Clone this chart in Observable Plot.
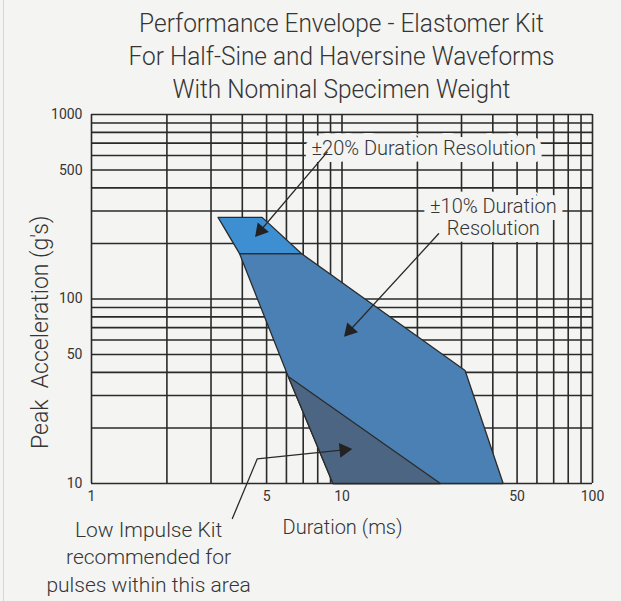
<!DOCTYPE html>
<html>
<head>
<meta charset="utf-8">
<script src="https://cdn.jsdelivr.net/npm/d3@7"></script>
<script src="https://cdn.jsdelivr.net/npm/@observablehq/plot@0.6"></script>
<style>
html, body { margin: 0; padding: 0; background: #f4f4f2; }
body { width: 621px; height: 601px; overflow: hidden; position: relative; font-family: Roboto, "Liberation Sans", sans-serif; color: #353535; }
#edge { position: absolute; left: 3px; top: 0; width: 1px; height: 601px; background: #d6d6d6; }
#title { position: absolute; left: 31px; top: 7px; width: 621px; text-align: center; font-size: 26px; font-weight: 300; line-height: 33px; transform: scaleX(0.94); transform-origin: 310.5px 0; }
#chart { position: absolute; left: 0; top: 100px; }
</style>
</head>
<body>
<div id="edge"></div>
<div id="title">
  <div>Performance Envelope - Elastomer Kit</div>
  <div>For Half-Sine and Haversine Waveforms</div>
  <div>With Nominal Specimen Weight</div>
</div>
<div id="chart"></div>
<script>
// ---- data ----
const xTicks = [1, 5, 10, 50, 100];
const yTicks = [10, 50, 100, 500, 1000];
const xGrid = [1, 2, 3, 4, 5, 6, 7, 8, 9, 10, 20, 30, 40, 50, 60, 70, 80, 90, 100];
const yGrid = [10, 20, 30, 40, 50, 60, 70, 80, 90, 100, 200, 300, 400, 500, 600, 700, 800, 900, 1000];

// ±20% duration resolution zone (duration ms, peak g)
const zone20Duration = [3.2, 4.8, 6.9, 3.9];
const zone20Accel = [277, 277, 176, 176];
// ±10% duration resolution zone
const zone10Duration = [3.9, 6.9, 31, 44, 9.2, 6.1];
const zone10Accel = [176, 176, 41, 10, 10, 38];
// low impulse kit zone
const lowDuration = [6.1, 24.7, 9.2];
const lowAccel = [38, 10, 10];

// annotation labels
const boxedText = ["±20% Duration Resolution", "±10% Duration\nResolution"];
const boxedDuration = [21.2, 40.2];
const boxedAccel = [662, 280];
const noteText = ["Low Impulse Kit\nrecommended for\npulses within this area"];
const noteDuration = [1.69];
const noteAccel = [4.07];
const xTitle = ["Duration (ms)"];
const xTitleDuration = [10.05];
const xTitleAccel = [5.77];
const yTitle = ["Peak  Acceleration (g's)"];
const yTitleDuration = [0.626];
const yTitleAccel = [66];

// leader lines
const arrowId = [1, 1, 2, 2, 3, 3, 3];
const arrowDuration = [8.73, 4.73, 24.3, 10.74, 3.65, 4.59, 10.17];
const arrowAccel = [625, 235, 225.6, 67.5, 6.46, 13.6, 15.2];

// ---- build ----
const bg = "#f4f4f2";
const ink = "#353535";
const font = "Roboto, 'Liberation Sans', sans-serif";
const toRows = (xs, ys) => xs.map((x, i) => ({x, y: ys[i]}));
const zone20 = toRows(zone20Duration, zone20Accel);
const zone10 = toRows(zone10Duration, zone10Accel);
const low = toRows(lowDuration, lowAccel);
const boxed = boxedText.map((t, i) => ({t, x: boxedDuration[i], y: boxedAccel[i]}));
const arrows = arrowId.map((id, i) => ({id, x: arrowDuration[i], y: arrowAccel[i]}));

function make(heads) {
  return Plot.plot({
    width: 621, height: 501,
    marginTop: 14, marginBottom: 118, marginLeft: 91, marginRight: 29,
    style: {background: "transparent", fontFamily: font, fontSize: "14px", color: ink, overflow: "visible"},
    x: {type: "log", domain: [1, 100], ticks: xTicks, tickFormat: d3.format("d"), tickSize: 0, tickPadding: 8, label: null},
    y: {type: "log", domain: [10, 1000], ticks: yTicks, tickFormat: d3.format("d"), tickSize: 0, tickPadding: 9, label: null},
    marks: [
      Plot.ruleX(xGrid, {stroke: "#2a2a2a", strokeWidth: 1.6}),
      Plot.ruleY(yGrid, {stroke: "#2a2a2a", strokeWidth: 1.6}),
      Plot.line(zone10, {x: "x", y: "y", curve: "linear-closed", fill: "#4a80b4", stroke: "#2b2b2b", strokeWidth: 1.3}),
      Plot.line(zone20, {x: "x", y: "y", curve: "linear-closed", fill: "#3d8fd2", stroke: "#2b2b2b", strokeWidth: 1.3}),
      Plot.line(low, {x: "x", y: "y", curve: "linear-closed", fill: "#4c6583", stroke: "#2b2b2b", strokeWidth: 1.3}),
      Plot.text(boxed, {x: "x", y: "y", text: "t", fontSize: 20, fill: ink, stroke: bg, strokeWidth: 14, lineHeight: 1.1, fontFamily: font, fontWeight: 300}),
      Plot.text(noteText, {x: noteDuration, y: noteAccel, text: d => d, fontSize: 21, fill: ink, lineHeight: 1.3, fontFamily: font, fontWeight: 300}),
      Plot.text(xTitle, {x: xTitleDuration, y: xTitleAccel, text: d => d, fontSize: 20, fill: ink, fontFamily: font, fontWeight: 300}),
      Plot.text(yTitle, {x: yTitleDuration, y: yTitleAccel, text: d => d, rotate: -90, fontSize: 23, fill: ink, fontFamily: font, fontWeight: 300}),
      Plot.line(arrows, {x: "x", y: "y", z: "id", stroke: "#2b2b2b", strokeWidth: 1.3}),
      Plot.dot(heads, {x: "x", y: "y", symbol: "triangle2", r: 7, fill: "#222", rotate: "a"})
    ]
  });
}

const probe = make([]);
const sx = probe.scale("x"), sy = probe.scale("y");
const heads = [];
for (const id of [1, 2, 3]) {
  const pts = arrows.filter(d => d.id === id);
  const a = pts[pts.length - 2], b = pts[pts.length - 1];
  const dx = sx.apply(b.x) - sx.apply(a.x);
  const dy = sy.apply(b.y) - sy.apply(a.y);
  heads.push({x: b.x, y: b.y, a: Math.atan2(dx, -dy) * 180 / Math.PI});
}
document.getElementById("chart").appendChild(make(heads));
</script>
</body>
</html>
